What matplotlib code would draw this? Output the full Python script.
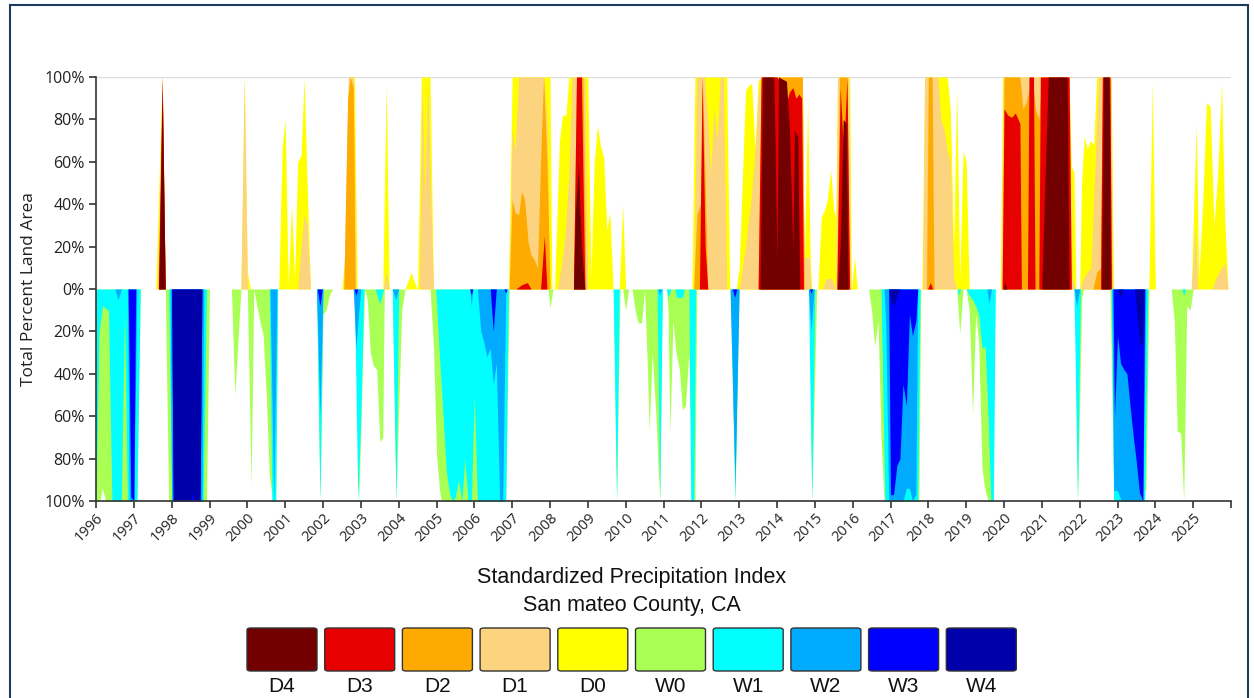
import matplotlib
matplotlib.use('Agg')
import matplotlib.pyplot as plt
from matplotlib.patches import FancyBboxPatch, Rectangle

# (decimal year, percent of area) break points
D0 = [(1997.58, 0), (1997.75, 100), (1997.83, 0),
      (1999.83, 0), (1999.92, 100), (2000.0, 8), (2000.08, 0),
      (2000.83, 0), (2000.92, 67), (2001.0, 80), (2001.08, 2), (2001.17, 40), (2001.25, 5),
      (2001.33, 60), (2001.42, 63), (2001.5, 100), (2001.58, 50), (2001.67, 0),
      (2002.5, 0), (2002.6, 20), (2002.67, 100), (2002.83, 100), (2002.9, 0),
      (2003.58, 0), (2003.67, 97), (2003.75, 0),
      (2004.17, 0), (2004.33, 8), (2004.42, 3), (2004.5, 0), (2004.6, 100), (2004.83, 100), (2004.92, 0),
      (2006.9, 0), (2007.0, 100), (2008.0, 100), (2008.05, 0), (2008.12, 0),
      (2008.25, 70), (2008.33, 82), (2008.42, 82), (2008.5, 100), (2009.0, 100), (2009.08, 5),
      (2009.17, 60), (2009.25, 77), (2009.33, 68), (2009.42, 62), (2009.5, 28), (2009.58, 36), (2009.67, 0),
      (2009.83, 0), (2009.92, 40), (2010.0, 0),
      (2011.75, 0), (2011.83, 100), (2012.67, 100), (2012.75, 0),
      (2012.92, 0), (2013.0, 10), (2013.08, 50), (2013.17, 94), (2013.25, 96), (2013.33, 97),
      (2013.42, 66), (2013.5, 98), (2013.58, 100), (2014.67, 100), (2014.72, 10), (2014.81, 88),
      (2014.88, 12), (2014.92, 0),
      (2015.08, 0), (2015.17, 34), (2015.25, 37), (2015.33, 42), (2015.42, 56), (2015.5, 37),
      (2015.55, 34), (2015.6, 100), (2015.92, 100), (2015.97, 0), (2016.05, 15), (2016.12, 0),
      (2017.83, 0), (2017.9, 100), (2018.5, 100), (2018.58, 85), (2018.67, 20), (2018.75, 95),
      (2018.83, 5), (2018.92, 65), (2019.0, 60), (2019.08, 0),
      (2019.9, 0), (2019.96, 100), (2021.72, 100), (2021.78, 58), (2021.85, 55), (2021.9, 0),
      (2022.0, 0), (2022.05, 50), (2022.12, 72), (2022.2, 66), (2022.28, 70), (2022.37, 68),
      (2022.45, 100), (2022.83, 100), (2022.9, 0),
      (2023.83, 0), (2023.92, 98), (2024.0, 0),
      (2024.95, 0), (2025.08, 78), (2025.15, 5), (2025.25, 40), (2025.35, 88), (2025.45, 86),
      (2025.55, 30), (2025.65, 55), (2025.75, 97), (2025.83, 35), (2025.92, 0)]

D1 = [(1997.62, 0), (1997.75, 100), (1997.83, 0),
      (1999.83, 0), (1999.92, 100), (2000.0, 0),
      (2001.33, 0), (2001.42, 20), (2001.5, 35), (2001.58, 30), (2001.67, 0),
      (2002.55, 0), (2002.67, 100), (2002.8, 100), (2002.87, 0),
      (2003.6, 0), (2003.67, 8), (2003.75, 0),
      (2004.55, 0), (2004.62, 100), (2004.69, 40), (2004.77, 100), (2004.85, 40), (2004.92, 0),
      (2006.92, 0), (2007.0, 75), (2007.08, 65), (2007.17, 100), (2007.83, 100), (2007.92, 80), (2008.0, 0),
      (2008.2, 0), (2008.33, 15), (2008.42, 30), (2008.5, 55), (2008.58, 100), (2008.92, 100), (2009.0, 0),
      (2011.8, 0), (2011.88, 100), (2012.08, 100), (2012.17, 80), (2012.25, 55), (2012.33, 85),
      (2012.42, 70), (2012.5, 100), (2012.58, 100), (2012.67, 0),
      (2013.0, 0), (2013.17, 20), (2013.33, 45), (2013.42, 66), (2013.5, 90), (2013.58, 100),
      (2014.67, 100), (2014.72, 15), (2014.85, 15), (2014.9, 0),
      (2015.2, 0), (2015.3, 5), (2015.45, 5), (2015.55, 0), (2015.6, 100), (2015.9, 100), (2015.95, 0),
      (2017.85, 0), (2017.9, 100), (2018.25, 100), (2018.33, 80), (2018.42, 75), (2018.5, 65),
      (2018.58, 60), (2018.67, 5), (2018.75, 0),
      (2019.92, 0), (2019.98, 100), (2021.72, 100), (2021.8, 5), (2021.88, 0),
      (2022.0, 0), (2022.1, 5), (2022.2, 8), (2022.3, 10), (2022.4, 55), (2022.5, 100),
      (2022.83, 100), (2022.88, 0),
      (2024.95, 0), (2025.05, 30), (2025.12, 0), (2025.5, 0), (2025.6, 5), (2025.75, 10),
      (2025.85, 12), (2025.92, 0)]

D2 = [(1997.64, 0), (1997.75, 100), (1997.83, 0),
      (2002.55, 0), (2002.65, 90), (2002.72, 100), (2002.8, 95), (2002.85, 0),
      (2006.92, 0), (2007.0, 42), (2007.08, 36), (2007.17, 35), (2007.25, 46), (2007.33, 42),
      (2007.42, 22), (2007.5, 16), (2007.58, 14), (2007.67, 10), (2007.75, 60), (2007.83, 100),
      (2007.92, 60), (2008.0, 0),
      (2008.62, 0), (2008.7, 100), (2008.87, 100), (2008.95, 0),
      (2011.8, 0), (2011.88, 35), (2011.98, 40), (2012.03, 100), (2012.1, 50), (2012.17, 0),
      (2013.5, 0), (2013.58, 100), (2014.67, 100), (2014.72, 0),
      (2015.58, 0), (2015.65, 100), (2015.85, 100), (2015.92, 0),
      (2017.95, 0), (2018.0, 100), (2018.1, 100), (2018.15, 0),
      (2019.95, 0), (2020.0, 100), (2020.42, 100), (2020.5, 85), (2020.58, 88), (2020.75, 100),
      (2020.83, 85), (2020.92, 80), (2021.0, 100), (2021.72, 100), (2021.78, 0),
      (2022.35, 0), (2022.45, 8), (2022.55, 10), (2022.6, 100), (2022.8, 100), (2022.85, 0)]

D3 = [(1997.65, 0), (1997.75, 100), (1997.83, 0),
      (2007.1, 0), (2007.25, 2), (2007.4, 3), (2007.5, 0),
      (2007.75, 0), (2007.85, 25), (2007.92, 0),
      (2008.62, 0), (2008.7, 100), (2008.83, 100), (2008.92, 0),
      (2011.95, 0), (2012.02, 100), (2012.1, 20), (2012.17, 0),
      (2013.5, 0), (2013.58, 100), (2014.0, 100), (2014.17, 96), (2014.25, 88), (2014.33, 93),
      (2014.42, 95), (2014.5, 90), (2014.58, 92), (2014.65, 90), (2014.7, 0),
      (2015.58, 0), (2015.67, 95), (2015.76, 64), (2015.85, 100), (2015.92, 0),
      (2017.98, 0), (2018.05, 3), (2018.12, 0),
      (2019.95, 0), (2020.0, 85), (2020.1, 82), (2020.2, 81), (2020.3, 83), (2020.42, 78),
      (2020.46, 0), (2020.62, 0), (2020.66, 100), (2020.78, 100), (2020.82, 0), (2020.92, 0),
      (2020.96, 100), (2021.72, 100), (2021.78, 0),
      (2022.55, 0), (2022.6, 100), (2022.8, 100), (2022.84, 0)]

D4 = [(1997.66, 0), (1997.75, 95), (1997.83, 0),
      (2008.62, 0), (2008.67, 35), (2008.75, 60), (2008.83, 20), (2008.92, 0),
      (2013.55, 0), (2013.62, 100), (2013.92, 100), (2014.0, 14), (2014.04, 100), (2014.25, 98),
      (2014.33, 75), (2014.42, 18), (2014.46, 75), (2014.55, 72), (2014.6, 0),
      (2015.6, 0), (2015.67, 20), (2015.75, 80), (2015.83, 78), (2015.88, 0),
      (2019.98, 0), (2020.02, 3), (2020.08, 0),
      (2021.0, 0), (2021.08, 50), (2021.17, 100), (2021.67, 100), (2021.72, 0),
      (2022.58, 0), (2022.63, 100), (2022.78, 100), (2022.82, 0)]

W0 = [(1996.0, 100), (1996.1, 100), (1996.17, 94), (1996.25, 100), (1997.08, 100), (1997.17, 0),
      (1997.83, 0), (1997.92, 100), (1998.92, 100), (1999.0, 0),
      (1999.58, 0), (1999.67, 50), (1999.83, 0),
      (2000.0, 0), (2000.1, 93), (2000.17, 0),
      (2000.25, 8), (2000.33, 15), (2000.42, 22), (2000.5, 50), (2000.58, 88), (2000.67, 100),
      (2000.75, 100), (2000.8, 0),
      (2001.83, 0), (2001.92, 100), (2002.0, 12), (2002.08, 10), (2002.17, 3), (2002.25, 0),
      (2002.83, 0), (2002.95, 100), (2003.05, 30), (2003.1, 0), (2003.17, 5), (2003.25, 30),
      (2003.33, 36), (2003.42, 38), (2003.5, 72), (2003.58, 70), (2003.62, 0),
      (2003.83, 0), (2003.93, 100), (2004.08, 10), (2004.17, 0),
      (2004.83, 0), (2004.92, 27), (2005.0, 78), (2005.08, 95), (2005.13, 100), (2006.83, 100), (2006.92, 0),
      (2007.95, 0), (2008.0, 9), (2008.08, 0),
      (2009.67, 0), (2009.76, 100), (2009.85, 0),
      (2009.92, 0), (2010.0, 10), (2010.08, 0),
      (2010.17, 0), (2010.25, 10), (2010.33, 16), (2010.42, 16), (2010.5, 0), (2010.58, 40),
      (2010.62, 67), (2010.7, 30), (2010.8, 60), (2010.9, 100), (2010.97, 0),
      (2011.08, 0), (2011.12, 10), (2011.17, 68), (2011.25, 15), (2011.33, 30), (2011.42, 38),
      (2011.5, 57), (2011.58, 55), (2011.67, 30), (2011.75, 100), (2011.83, 100), (2011.88, 0),
      (2012.76, 0), (2012.89, 100), (2013.0, 0),
      (2014.85, 0), (2014.92, 100), (2015.05, 0),
      (2016.42, 0), (2016.5, 10), (2016.58, 27), (2016.67, 15), (2016.75, 70), (2016.83, 100),
      (2017.75, 100), (2017.8, 0),
      (2018.75, 0), (2018.83, 21), (2018.92, 0),
      (2019.0, 0), (2019.08, 10), (2019.17, 59), (2019.25, 12), (2019.33, 25), (2019.42, 85),
      (2019.5, 95), (2019.58, 100), (2019.67, 100), (2019.75, 0),
      (2021.88, 0), (2021.95, 100), (2022.05, 5), (2022.1, 0),
      (2022.8, 0), (2022.9, 100), (2023.75, 95), (2023.83, 0),
      (2024.42, 0), (2024.5, 15), (2024.58, 67), (2024.67, 68), (2024.75, 100), (2024.83, 8),
      (2024.92, 10), (2025.0, 0)]

W1 = [(1996.0, 100), (1996.08, 20), (1996.17, 8), (1996.33, 10), (1996.42, 100), (1996.67, 100),
      (1996.75, 10), (1996.83, 100), (1997.08, 100), (1997.17, 0),
      (1997.92, 0), (1998.0, 100), (1998.83, 100), (1998.92, 0),
      (2000.58, 0), (2000.65, 100), (2000.75, 100), (2000.8, 0),
      (2001.83, 0), (2001.92, 100), (2002.0, 0),
      (2002.83, 0), (2002.92, 100), (2003.0, 60), (2003.08, 0),
      (2003.38, 0), (2003.5, 7), (2003.6, 0),
      (2003.83, 0), (2003.93, 100), (2004.0, 0),
      (2004.98, 0), (2005.09, 35), (2005.18, 62), (2005.26, 86), (2005.35, 97), (2005.42, 100),
      (2005.5, 98), (2005.58, 90), (2005.67, 100), (2005.75, 80), (2005.83, 100), (2005.92, 100),
      (2006.0, 50), (2006.08, 100), (2006.83, 100), (2006.9, 0),
      (2009.67, 0), (2009.76, 100), (2009.83, 0),
      (2010.83, 0), (2010.9, 100), (2010.97, 0),
      (2011.08, 0), (2011.12, 4), (2011.2, 0), (2011.3, 0), (2011.35, 4), (2011.5, 4), (2011.55, 0),
      (2011.67, 0), (2011.72, 100), (2011.8, 100), (2011.85, 0),
      (2012.78, 0), (2012.89, 100), (2012.98, 0),
      (2014.83, 0), (2014.92, 100), (2015.0, 0),
      (2016.75, 0), (2016.85, 100), (2017.72, 100), (2017.78, 0),
      (2018.77, 0), (2018.8, 3), (2018.85, 0),
      (2019.0, 0), (2019.08, 3), (2019.17, 5), (2019.25, 8), (2019.33, 12), (2019.42, 28),
      (2019.5, 27), (2019.58, 60), (2019.65, 100), (2019.72, 100), (2019.77, 0),
      (2021.85, 0), (2021.94, 100), (2022.02, 0),
      (2022.83, 0), (2022.9, 100), (2023.72, 100), (2023.8, 0),
      (2024.7, 0), (2024.75, 3), (2024.8, 0)]

W2 = [(1996.5, 0), (1996.58, 5), (1996.67, 0),
      (1996.83, 0), (1996.88, 100), (1997.0, 100), (1997.08, 0),
      (1997.96, 0), (1998.0, 100), (1998.8, 100), (1998.85, 0),
      (2000.6, 0), (2000.7, 100), (2000.78, 0),
      (2001.83, 0), (2001.92, 60), (2002.0, 0),
      (2002.8, 0), (2002.87, 28), (2002.95, 10), (2003.0, 0),
      (2003.83, 0), (2003.92, 5), (2004.0, 0),
      (2005.88, 0), (2005.92, 8), (2005.96, 0),
      (2006.08, 0), (2006.17, 20), (2006.25, 25), (2006.33, 32), (2006.42, 28), (2006.5, 45),
      (2006.58, 35), (2006.67, 100), (2006.75, 100), (2006.83, 0),
      (2010.85, 0), (2010.9, 3), (2010.95, 0),
      (2012.76, 0), (2012.89, 93), (2013.0, 0),
      (2014.83, 0), (2014.9, 20), (2014.98, 0),
      (2016.83, 0), (2016.88, 20), (2016.95, 100), (2017.33, 100), (2017.42, 94), (2017.5, 94),
      (2017.58, 100), (2017.67, 97), (2017.72, 0),
      (2019.55, 0), (2019.6, 7), (2019.67, 0),
      (2021.85, 0), (2021.92, 8), (2022.0, 0),
      (2022.85, 0), (2022.9, 95), (2023.0, 95), (2023.1, 100), (2023.67, 100), (2023.75, 0)]

W3 = [(1996.85, 0), (1996.92, 98), (1997.0, 100), (1997.05, 0),
      (1998.0, 0), (1998.04, 100), (1998.75, 100), (1998.8, 0),
      (2001.85, 0), (2001.92, 8), (2001.98, 0),
      (2002.82, 0), (2002.87, 3), (2002.92, 0),
      (2005.88, 0), (2005.92, 3), (2005.96, 0),
      (2006.42, 0), (2006.5, 20), (2006.58, 0),
      (2006.78, 0), (2006.83, 2), (2006.87, 0),
      (2012.82, 0), (2012.88, 4), (2012.94, 0),
      (2014.86, 0), (2014.9, 2), (2014.94, 0),
      (2016.95, 0), (2017.0, 97), (2017.08, 97), (2017.17, 83), (2017.25, 80), (2017.33, 45),
      (2017.42, 55), (2017.5, 12), (2017.58, 22), (2017.67, 15), (2017.72, 0),
      (2022.88, 0), (2022.92, 60), (2023.0, 22), (2023.08, 35), (2023.17, 38), (2023.25, 40),
      (2023.33, 55), (2023.42, 70), (2023.5, 82), (2023.58, 96), (2023.67, 100), (2023.72, 0)]

W4 = [(1998.0, 0), (1998.04, 100), (1998.5, 100), (1998.55, 96), (1998.6, 100), (1998.75, 100), (1998.8, 0),
      (2016.95, 0), (2017.0, 5), (2017.1, 8), (2017.17, 3), (2017.25, 0),
      (2023.0, 0), (2023.05, 4), (2023.1, 3), (2023.15, 0),
      (2023.45, 0), (2023.5, 10), (2023.58, 25), (2023.65, 27), (2023.7, 0)]

CATEGORIES = ['D4', 'D3', 'D2', 'D1', 'D0', 'W0', 'W1', 'W2', 'W3', 'W4']
COLORS = ['#730000', '#e60000', '#ffaa00', '#fcd37f', '#ffff00',
          '#aaff55', '#01ffff', '#00aaff', '#0000ff', '#0000aa']
YEARS = list(range(1996, 2027))

color_of = dict(zip(CATEGORIES, COLORS))

fig = plt.figure(figsize=(12.54, 6.98), dpi=100)
W, H = 1254, 698
ax = fig.add_axes([96 / W, 1 - 501 / H, (1231 - 96) / W, (501 - 77) / H])

# dry side: D0 (widest) first, D4 last on top
for name, pts in [('D0', D0), ('D1', D1), ('D2', D2), ('D3', D3), ('D4', D4)]:
    xs = [p[0] for p in pts]
    ys = [p[1] for p in pts]
    ax.fill_between(xs, 0, ys, color=color_of[name], lw=0, zorder=2)

# wet side drawn downward
for name, pts in [('W0', W0), ('W1', W1), ('W2', W2), ('W3', W3), ('W4', W4)]:
    xs = [p[0] for p in pts]
    ys = [-p[1] for p in pts]
    ax.fill_between(xs, 0, ys, color=color_of[name], lw=0, zorder=2)

ax.axhline(100, color='#dddddd', lw=1, zorder=1)
ax.set_xlim(1996, 2026)
ax.set_ylim(-100, 100)

yt = list(range(-100, 101, 20))
ax.set_yticks(yt)
ax.set_yticklabels([f'{abs(v)}%' for v in yt], fontfamily='Open Sans', fontsize=11.5, color='#222222')
ax.set_xticks(YEARS)
ax.set_xticklabels([str(y) if y < 2026 else '' for y in YEARS], rotation=45, ha='right',
                   rotation_mode='anchor', fontfamily='Open Sans', fontsize=10.5, color='#222222')
ax.tick_params(axis='both', direction='out', length=5, width=1.2, color='#333333', pad=3)
ax.tick_params(axis='x', pad=2)
for s in ['top', 'right']:
    ax.spines[s].set_visible(False)
for s in ['left', 'bottom']:
    ax.spines[s].set_color('#333333')
    ax.spines[s].set_linewidth(1.2)

ax.set_ylabel('Total Percent Land Area', fontfamily='Open Sans', fontsize=12.5, color='#222222')
ax.yaxis.set_label_coords(-0.052, 0.5)

fig.text(632 / W, 1 - 578 / H, 'Standardized Precipitation Index', ha='center', va='center',
         fontfamily='Liberation Sans', fontsize=15.5, color='#111111')
fig.text(632 / W, 1 - 606 / H, 'San mateo County, CA', ha='center', va='center',
         fontfamily='Liberation Sans', fontsize=15.5, color='#111111')

# legend swatches
for i, (name, col) in enumerate(zip(CATEGORIES, COLORS)):
    x0 = 247 + i * 77.7
    box = FancyBboxPatch((x0 / W, 1 - 671 / H), 70 / W, 43 / H,
                         boxstyle='round,pad=0,rounding_size=0.003',
                         transform=fig.transFigure, facecolor=col, edgecolor='#333333', lw=1)
    fig.patches.append(box)
    fig.text((x0 + 35) / W, 1 - 692 / H, name, ha='center', va='baseline',
             fontfamily='Liberation Sans', fontsize=15, color='#111111')

# outer frame
fig.patches.append(Rectangle((10 / W, -0.05), (1248 - 10) / W, 1.05 - 5 / H, transform=fig.transFigure,
                             fill=False, edgecolor='#1f3a60', lw=1.5))

fig.savefig('out.png', dpi=100, facecolor='white')
